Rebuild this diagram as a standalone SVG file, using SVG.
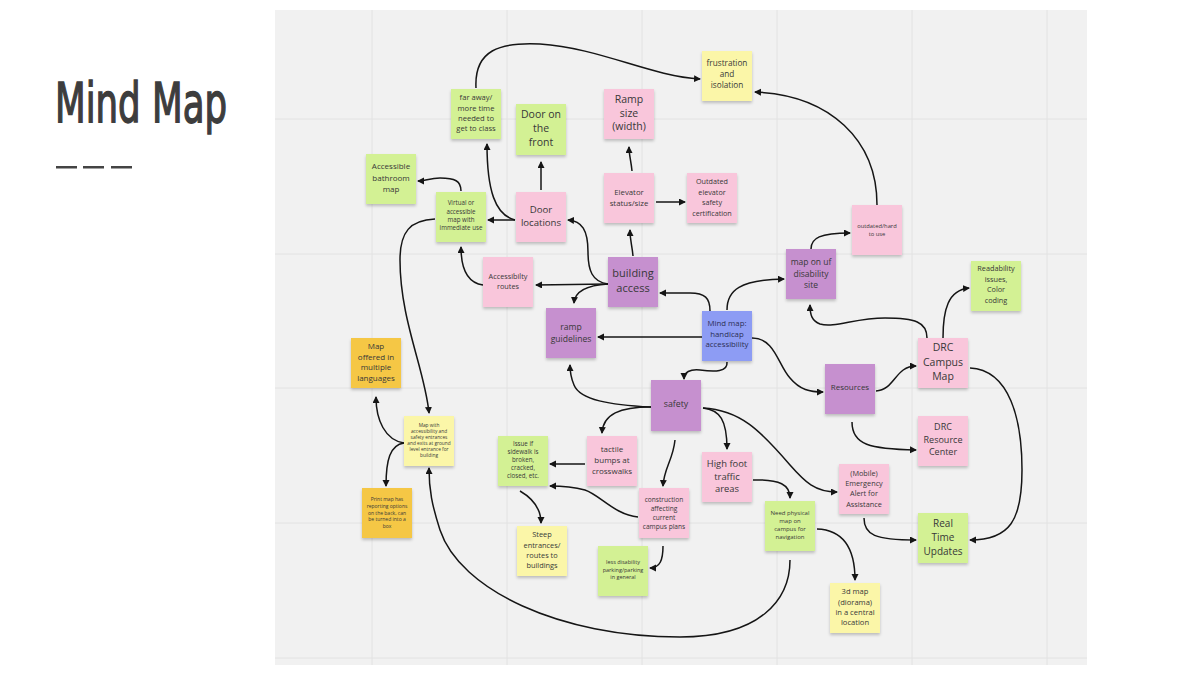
<svg xmlns="http://www.w3.org/2000/svg" width="1200" height="675" viewBox="0 0 1200 675">
<defs>
<style>
.n{stroke:none;filter:url(#sh)}
.pk{fill:#f9c6db}.gr{fill:#d3f194}.yl{fill:#fbf6a8}.go{fill:#f5c744}.pu{fill:#c690cf}.bl{fill:#8d9cf4}
.t{font-family:"Open Sans","Liberation Sans",sans-serif;fill:#383838;text-anchor:middle}
.c path{fill:none;stroke:#151515;stroke-width:1.5;marker-end:url(#ah)}
.grid{stroke:#e2e2e2;stroke-width:1}
</style>
<filter id="sh" x="-20%" y="-20%" width="140%" height="150%">
<feDropShadow dx="0" dy="2" stdDeviation="1.5" flood-color="#000" flood-opacity="0.22"/>
</filter>
<marker id="ah" markerUnits="userSpaceOnUse" markerWidth="8" markerHeight="8" refX="6" refY="3.5" orient="auto">
<path d="M0,0 L7,3.5 L0,7 z" fill="#151515"/>
</marker>
</defs>
<rect width="1200" height="675" fill="#ffffff"/>
<text transform="translate(55,122) scale(1,1.12)" x="0" y="0" font-family="'Liberation Sans Narrow','DejaVu Sans Condensed','Roboto',sans-serif" font-stretch="condensed" font-weight="normal" font-size="50" fill="#3d3d3d" stroke="#3d3d3d" stroke-width="1.3" textLength="172" lengthAdjust="spacingAndGlyphs">Mind Map</text>
<g fill="#444"><rect x="56" y="166" width="21" height="2.5"/><rect x="83" y="166" width="21" height="2.5"/><rect x="111" y="166" width="21" height="2.5"/></g>
<rect x="275" y="10" width="812" height="655" fill="#f1f1f1"/>
<g class="grid">
<line x1="372" y1="10" x2="372" y2="665"/><line x1="507" y1="10" x2="507" y2="665"/><line x1="642" y1="10" x2="642" y2="665"/><line x1="777" y1="10" x2="777" y2="665"/><line x1="912" y1="10" x2="912" y2="665"/><line x1="1047" y1="10" x2="1047" y2="665"/>
<line x1="275" y1="119" x2="1087" y2="119"/><line x1="275" y1="254" x2="1087" y2="254"/><line x1="275" y1="388" x2="1087" y2="388"/><line x1="275" y1="523" x2="1087" y2="523"/><line x1="275" y1="658" x2="1087" y2="658"/>
</g>
<g id="connectors" class="c">
<path d="M476,88 C474,50 500,42 540,44 C600,48 650,76 700,79"/>
<path d="M877,205 C877,140 830,95 755,92"/>
<path d="M632,171 C631,160 629,155 629,147"/>
<path d="M656,202 L685,202"/>
<path d="M633,256 C632,245 630,240 630,230"/>
<path d="M541,190 L541,162"/>
<path d="M515,220 C495,215 487,190 487,144"/>
<path d="M515,220 L488,220"/>
<path d="M461,191 C461,181 455,178 440,178 C430,178 425,181 418,181"/>
<path d="M608,284 C592,282 588,270 588,252 C588,230 582,221 568,220"/>
<path d="M608,284 L536,285"/>
<path d="M608,284 C590,285 575,290 574,303"/>
<path d="M483,285 C468,283 461,270 461,247"/>
<path d="M710,311 C710,298 705,293 690,293 L660,293"/>
<path d="M727,310 C727,290 740,280 784,279"/>
<path d="M702,337 L598,337"/>
<path d="M727,362 C728,372 715,372 700,370 C690,369 684,372 684,379"/>
<path d="M752,338 C775,338 778,365 790,378 C800,390 810,392 823,392"/>
<path d="M811,249 C811,238 820,233 850,233"/>
<path d="M927,338 C927,322 915,318 885,318 C855,318 835,328 820,324 C812,321 810,315 810,305"/>
<path d="M943,338 C943,310 948,290 969,288"/>
<path d="M876,391 C895,390 895,366 916,366"/>
<path d="M852,422 C852,445 870,449 916,450"/>
<path d="M970,368 C1010,370 1022,420 1022,470 C1022,520 1010,540 970,540"/>
<path d="M864,518 C864,535 875,540 916,540"/>
<path d="M703,408 C740,410 760,430 790,465 C805,482 815,492 837,492"/>
<path d="M703,408 C720,410 727,420 727,449"/>
<path d="M651,407 C610,405 580,400 574,385 C571,378 570,372 570,365"/>
<path d="M651,407 C620,407 603,414 602,433"/>
<path d="M675,440 C673,460 664,468 663,486"/>
<path d="M585,464 L550,464"/>
<path d="M638,517 C615,515 600,495 585,490 C570,486 560,486 550,486"/>
<path d="M663,546 C663,560 660,568 650,568"/>
<path d="M520,491 C532,498 541,508 541,523"/>
<path d="M753,480 C780,479 790,485 790,498"/>
<path d="M817,529 C845,530 855,550 855,580"/>
<path d="M790,560 C790,600 760,637 680,637 C560,637 460,590 440,530 C432,505 429,490 429,468"/>
<path d="M435,219 C410,220 400,232 400,260 C400,320 425,370 429,413"/>
<path d="M404,443 C385,440 376,420 376,397"/>
<path d="M404,443 C390,445 386,460 386,486"/>
</g>
<g id="n-frustration"><rect class="n yl" x="702" y="51" width="50" height="50"/><text class="t" font-size="8.2"><tspan x="727" y="66">frustration</tspan><tspan x="727" y="77">and</tspan><tspan x="727" y="88">isolation</tspan></text></g>
<g id="n-faraway"><rect class="n gr" x="451" y="89" width="50" height="50"/><text class="t" font-size="7.6"><tspan x="476" y="100">far away/</tspan><tspan x="476" y="110.5">more time</tspan><tspan x="476" y="121">needed to</tspan><tspan x="476" y="131">get to class</tspan></text></g>
<g id="n-doorfront"><rect class="n gr" x="516" y="104" width="50" height="51"/><text class="t" font-size="10.5"><tspan x="541" y="117.5">Door on</tspan><tspan x="541" y="131.5">the</tspan><tspan x="541" y="145.5">front</tspan></text></g>
<g id="n-rampsize"><rect class="n pk" x="604" y="89" width="50" height="50"/><text class="t" font-size="10.5"><tspan x="629" y="102.5">Ramp</tspan><tspan x="629" y="116.5">size</tspan><tspan x="629" y="130">(width)</tspan></text></g>
<g id="n-bathroom"><rect class="n gr" x="366" y="154" width="50" height="50"/><text class="t" font-size="8"><tspan x="391" y="169">Accessible</tspan><tspan x="391" y="180.5">bathroom</tspan><tspan x="391" y="192">map</tspan></text></g>
<g id="n-virtual"><rect class="n gr" x="436" y="192" width="50" height="50"/><text class="t" font-size="6.2"><tspan x="461" y="205">Virtual or</tspan><tspan x="461" y="213.5">accessible</tspan><tspan x="461" y="222">map with</tspan><tspan x="461" y="230">immediate use</tspan></text></g>
<g id="n-doorloc"><rect class="n pk" x="516" y="192" width="50" height="50"/><text class="t" font-size="9.6"><tspan x="541" y="212.5">Door</tspan><tspan x="541" y="225.5">locations</tspan></text></g>
<g id="n-elevator"><rect class="n pk" x="604" y="173" width="50" height="50"/><text class="t" font-size="7.8"><tspan x="629" y="195">Elevator</tspan><tspan x="629" y="206">status/size</tspan></text></g>
<g id="n-outdatedelev"><rect class="n pk" x="687" y="173" width="50" height="50"/><text class="t" font-size="7.2"><tspan x="712" y="184">Outdated</tspan><tspan x="712" y="194.5">elevator</tspan><tspan x="712" y="205">safety</tspan><tspan x="712" y="215.5">certification</tspan></text></g>
<g id="n-outdatedhard"><rect class="n pk" x="852" y="205" width="50" height="50"/><text class="t" font-size="5.8"><tspan x="877" y="228">outdated/hard</tspan><tspan x="877" y="235.5">to use</tspan></text></g>
<g id="n-building"><rect class="n pu" x="608" y="257" width="50" height="50"/><text class="t" font-size="11"><tspan x="633" y="277">building</tspan><tspan x="633" y="291.5">access</tspan></text></g>
<g id="n-routes"><rect class="n pk" x="483" y="257" width="50" height="50"/><text class="t" font-size="7.3"><tspan x="508" y="279">Accessibilty</tspan><tspan x="508" y="289">routes</tspan></text></g>
<g id="n-rampguide"><rect class="n pu" x="546" y="308" width="50" height="50"/><text class="t" font-size="8.6"><tspan x="571" y="330">ramp</tspan><tspan x="571" y="341.5">guidelines</tspan></text></g>
<g id="n-mindmap"><rect class="n bl" x="702" y="311" width="50" height="50"/><text class="t" font-size="7.8" style="fill:#2c2f55"><tspan x="727" y="326">Mind map:</tspan><tspan x="727" y="336.5">handicap</tspan><tspan x="727" y="347">accessibility</tspan></text></g>
<g id="n-safety"><rect class="n pu" x="651" y="380" width="50" height="51"/><text class="t" font-size="8.8"><tspan x="676" y="407">safety</tspan></text></g>
<g id="n-mapuf"><rect class="n pu" x="786" y="249" width="50" height="50"/><text class="t" font-size="8.5"><tspan x="811" y="265">map on uf</tspan><tspan x="811" y="276.5">disability</tspan><tspan x="811" y="288">site</tspan></text></g>
<g id="n-readability"><rect class="n gr" x="971" y="261" width="50" height="50"/><text class="t" font-size="7.3"><tspan x="996" y="271">Readability</tspan><tspan x="996" y="281.5">issues,</tspan><tspan x="996" y="292">Color</tspan><tspan x="996" y="302.5">coding</tspan></text></g>
<g id="n-drcmap"><rect class="n pk" x="918" y="338" width="50" height="50"/><text class="t" font-size="10.5"><tspan x="943" y="351">DRC</tspan><tspan x="943" y="365.5">Campus</tspan><tspan x="943" y="380">Map</tspan></text></g>
<g id="n-resources"><rect class="n pu" x="825" y="364" width="50" height="50"/><text class="t" font-size="8"><tspan x="850" y="390">Resources</tspan></text></g>
<g id="n-drccenter"><rect class="n pk" x="918" y="416" width="50" height="50"/><text class="t" font-size="9"><tspan x="943" y="430">DRC</tspan><tspan x="943" y="442.5">Resource</tspan><tspan x="943" y="455">Center</tspan></text></g>
<g id="n-languages"><rect class="n go" x="351" y="338" width="50" height="50"/><text class="t" font-size="8"><tspan x="376" y="349">Map</tspan><tspan x="376" y="359.5">offered in</tspan><tspan x="376" y="370">multiple</tspan><tspan x="376" y="380.5">languages</tspan></text></g>
<g id="n-mapwith"><rect class="n yl" x="404" y="416" width="50" height="50"/><text class="t" font-size="4.8"><tspan x="429" y="427">Map with</tspan><tspan x="429" y="433">accessibility and</tspan><tspan x="429" y="439">safety entrances</tspan><tspan x="429" y="445">and exits at ground</tspan><tspan x="429" y="451">level entrance for</tspan><tspan x="429" y="457">building</tspan></text></g>
<g id="n-printmap"><rect class="n go" x="362" y="488" width="50" height="50"/><text class="t" font-size="5"><tspan x="387" y="501">Print map has</tspan><tspan x="387" y="507.8">reporting options</tspan><tspan x="387" y="514.6">on the back, can</tspan><tspan x="387" y="521.4">be turned into a</tspan><tspan x="387" y="528.2">box</tspan></text></g>
<g id="n-issue"><rect class="n gr" x="498" y="436" width="50" height="50"/><text class="t" font-size="6.2"><tspan x="523" y="446">Issue if</tspan><tspan x="523" y="454">sidewalk is</tspan><tspan x="523" y="462">broken,</tspan><tspan x="523" y="470">cracked,</tspan><tspan x="523" y="478">closed, etc.</tspan></text></g>
<g id="n-tactile"><rect class="n pk" x="587" y="436" width="50" height="50"/><text class="t" font-size="8"><tspan x="612" y="452">tactile</tspan><tspan x="612" y="463">bumps at</tspan><tspan x="612" y="474">crosswalks</tspan></text></g>
<g id="n-construction"><rect class="n pk" x="639" y="488" width="50" height="50"/><text class="t" font-size="6.6"><tspan x="664" y="502">construction</tspan><tspan x="664" y="511">affecting</tspan><tspan x="664" y="520">current</tspan><tspan x="664" y="529">campus plans</tspan></text></g>
<g id="n-highfoot"><rect class="n pk" x="702" y="452" width="50" height="50"/><text class="t" font-size="9.4"><tspan x="727" y="466.5">High foot</tspan><tspan x="727" y="479.5">traffic</tspan><tspan x="727" y="492">areas</tspan></text></g>
<g id="n-steep"><rect class="n yl" x="517" y="526" width="50" height="50"/><text class="t" font-size="7.4"><tspan x="542" y="537">Steep</tspan><tspan x="542" y="547.5">entrances/</tspan><tspan x="542" y="558">routes to</tspan><tspan x="542" y="568">buildings</tspan></text></g>
<g id="n-parking"><rect class="n gr" x="598" y="546" width="50" height="50"/><text class="t" font-size="5.5"><tspan x="623" y="564">less disability</tspan><tspan x="623" y="571.5">parking/parking</tspan><tspan x="623" y="579">in general</tspan></text></g>
<g id="n-physical"><rect class="n gr" x="765" y="501" width="50" height="50"/><text class="t" font-size="6"><tspan x="790" y="515">Need physical</tspan><tspan x="790" y="523">map on</tspan><tspan x="790" y="531">campus for</tspan><tspan x="790" y="539">navigation</tspan></text></g>
<g id="n-mobile"><rect class="n pk" x="839" y="464" width="50" height="50"/><text class="t" font-size="7.3"><tspan x="864" y="476">(Mobile)</tspan><tspan x="864" y="486">Emergency</tspan><tspan x="864" y="496">Alert for</tspan><tspan x="864" y="506.5">Assistance</tspan></text></g>
<g id="n-realtime"><rect class="n gr" x="918" y="513" width="50" height="50"/><text class="t" font-size="10"><tspan x="943" y="526.5">Real</tspan><tspan x="943" y="540.5">Time</tspan><tspan x="943" y="554.5">Updates</tspan></text></g>
<g id="n-3dmap"><rect class="n yl" x="830" y="583" width="50" height="50"/><text class="t" font-size="7.6"><tspan x="855" y="594">3d map</tspan><tspan x="855" y="604.5">(diorama)</tspan><tspan x="855" y="615">in a central</tspan><tspan x="855" y="625">location</tspan></text></g>
</svg>
